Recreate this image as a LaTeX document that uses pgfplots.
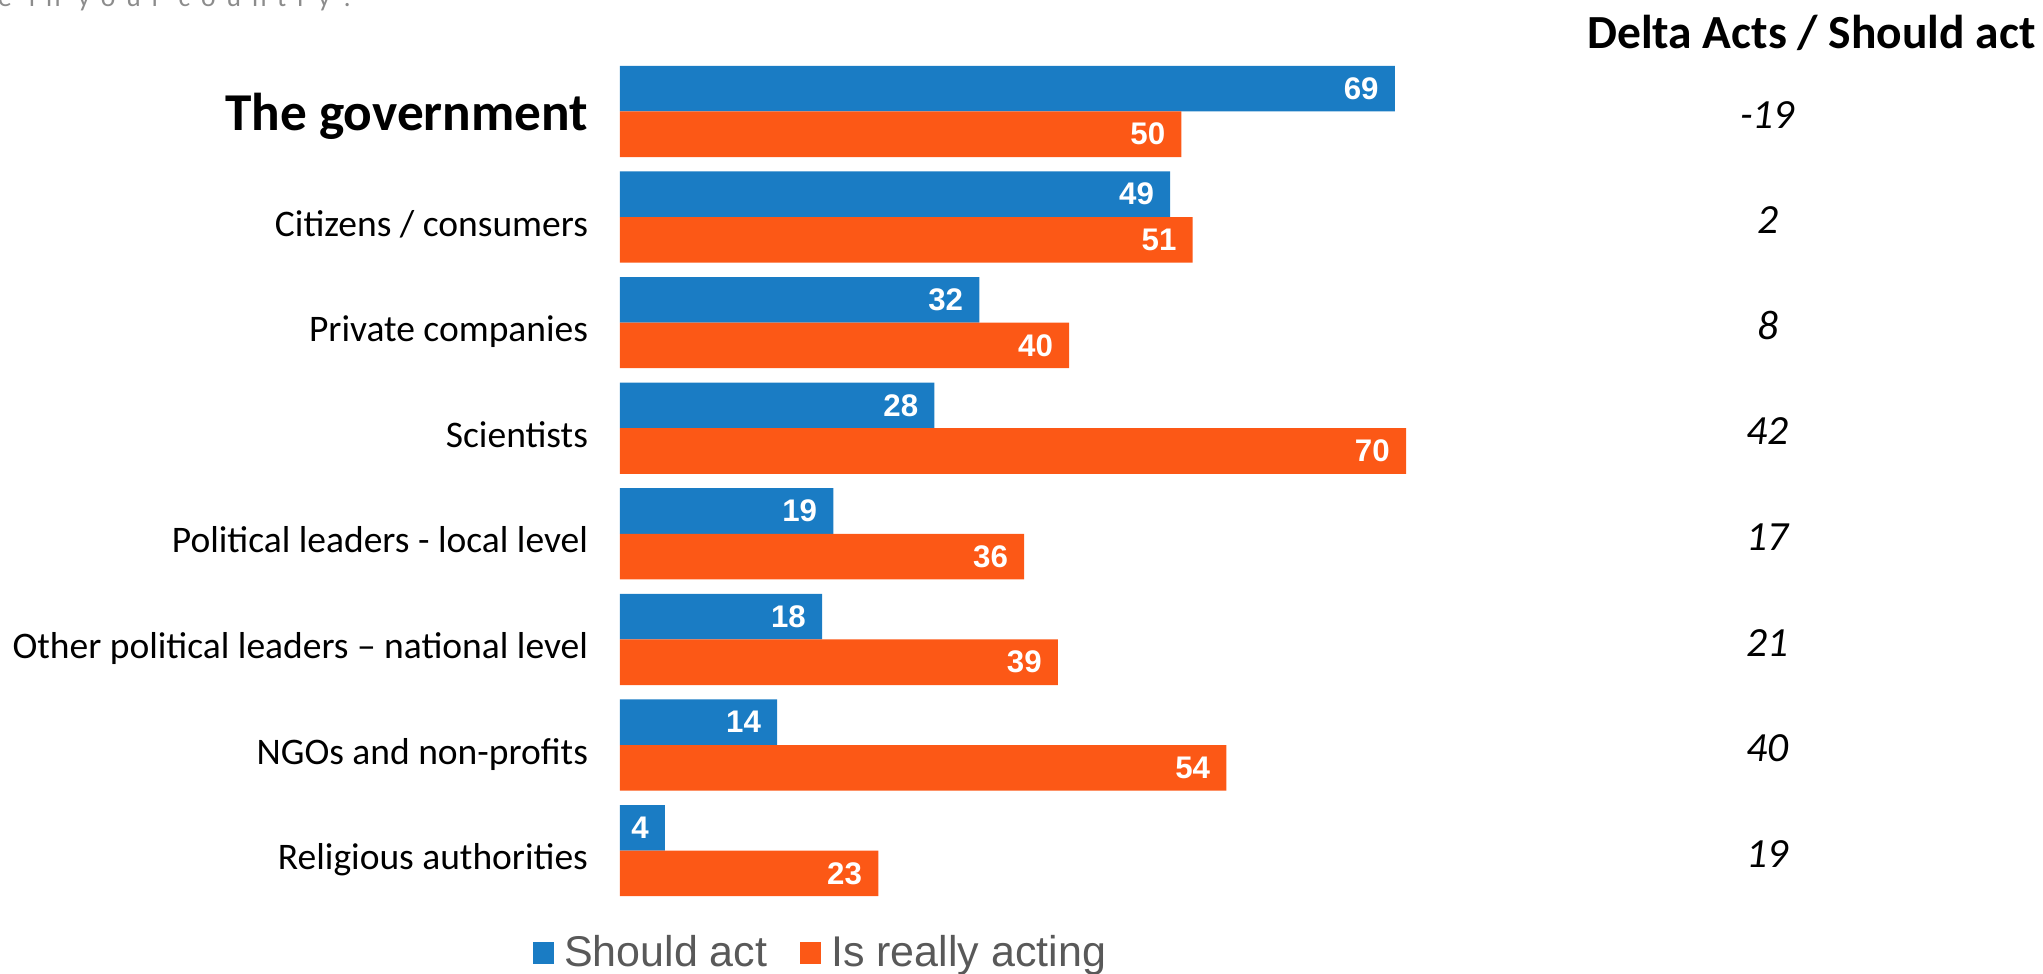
\documentclass[border=0pt]{standalone}
\usepackage{pgfplots}
\pgfplotsset{compat=1.18}
\usepackage{fontspec}
\setmainfont{Carlito}
\newfontfamily\arial{Liberation Sans}
\definecolor{cblue}{HTML}{1A7CC4}
\definecolor{corange}{HTML}{FC5816}
\definecolor{lgrey}{HTML}{595959}
\begin{document}
\begin{tikzpicture}
\useasboundingbox (0,0) rectangle (817.2pt,-389.2pt);
\node[anchor=base west, inner sep=0pt, text=gray!90] at (-1pt,-2.4pt) {\fontsize{11}{13}\selectfont\addfontfeature{LetterSpace=40}e in your country?};
\node[anchor=east, inner sep=0pt, font=\bfseries\fontsize{19}{22}\selectfont] at (814.4pt,-13pt) {Delta Acts / Should act};
\begin{axis}[
  at={(248pt,-361.36pt)}, anchor=south west,
  scale only axis, width=314.4pt, height=337.92pt,
  xmin=0, xmax=70, ymin=-0.5, ymax=7.5,
  xbar, bar width=18.24pt,
  axis line style={draw=none},
  xtick=\empty,
  ytick={0,...,7},
  yticklabels={Religious authorities, NGOs and non-profits, Other political leaders – national level, Political leaders - local level, Scientists, Private companies, Citizens / consumers, {\fontsize{21.3}{25}\selectfont\bfseries The government}},
  major tick length=0pt,
  yticklabel style={anchor=base east, inner sep=0pt, xshift=-12.6pt, yshift=-7.6pt, font=\fontsize{15}{18}\selectfont},
  clip=false,
  /pgf/number format/assume math mode=true,
  nodes near coords,
  every node near coord/.append style={anchor=east, inner sep=0pt, xshift=-6.3pt, text=white, font=\arial\bfseries\fontsize{12.5}{14}\selectfont},
  legend columns=2,
  legend image code/.code={\fill[#1,draw=none] (0pt,-4.3pt) rectangle (8.6pt,4.3pt);},
  legend style={at={(0.26,-0.0587)}, anchor=center, draw=none, fill=none,
    font=\arial\fontsize{17.2}{19}\selectfont, text=lgrey, inner sep=0pt,
    nodes={inner ysep=2pt, inner xsep=4pt},
    /tikz/every even column/.append style={column sep=9pt}},
]
\addplot[fill=cblue, draw=none, bar shift=9.12pt] coordinates {
  (69,7) (49,6) (32,5) (28,4) (19,3) (18,2) (14,1) (4,0)};
\addlegendentry{Should act}
\addplot[fill=corange, draw=none, bar shift=-9.12pt] coordinates {
  (50,7) (51,6) (40,5) (70,4) (36,3) (39,2) (54,1) (23,0)};
\addlegendentry{Is really acting}
\begin{scope}[every node/.style={font=\itshape\fontsize{16.6}{19}\selectfont, yshift=-1.3pt}]
\node at (axis cs:102.2,7) {-19};
\node at (axis cs:102.2,6) {2};
\node at (axis cs:102.2,5) {8};
\node at (axis cs:102.2,4) {42};
\node at (axis cs:102.2,3) {17};
\node at (axis cs:102.2,2) {21};
\node at (axis cs:102.2,1) {40};
\node at (axis cs:102.2,0) {19};
\end{scope}
\end{axis}
\end{tikzpicture}
\end{document}
